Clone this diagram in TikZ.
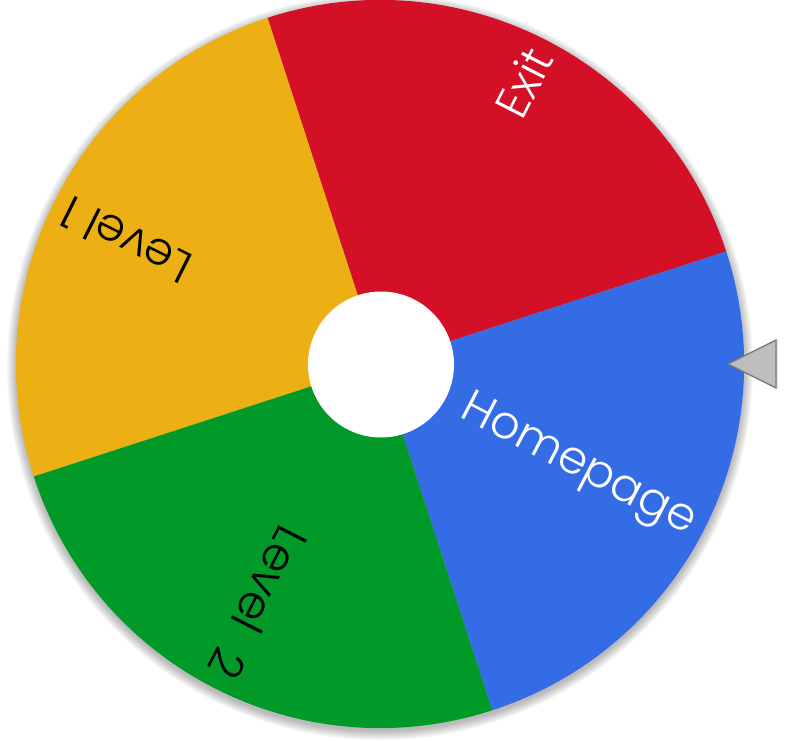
\documentclass[tikz,border=0pt]{standalone}
\usepackage{fontspec}
\setmainfont{Poppins Light}
\usetikzlibrary{calc}
\definecolor{wred}{RGB}{212,16,38}
\definecolor{wyellow}{RGB}{237,176,20}
\definecolor{wgreen}{RGB}{1,153,40}
\definecolor{wblue}{RGB}{52,108,230}
\definecolor{ptrfill}{RGB}{190,190,190}
\definecolor{ptrdraw}{RGB}{125,125,125}
\tikzset{
  lbl/.style={inner sep=0pt, font=\fontsize{34.5}{38}\selectfont},
}
\begin{document}
\begin{tikzpicture}[x=0.75pt,y=0.75pt]
\useasboundingbox (0,0) rectangle (791,740);
\coordinate (C) at (380,376);
% shadow
\foreach \k in {1,...,10}
  \fill[black,opacity=0.03] ($(C)+(0,-3)$) circle[radius=363+\k];
% segments
\fill[wred] (C) -- ($(C)+(18:364)$) arc[start angle=18, end angle=108, radius=364] -- cycle;
\fill[wyellow] (C) -- ($(C)+(108:364)$) arc[start angle=108, end angle=198, radius=364] -- cycle;
\fill[wgreen] (C) -- ($(C)+(198:364)$) arc[start angle=198, end angle=288, radius=364] -- cycle;
\fill[wblue] (C) -- ($(C)+(288:364)$) arc[start angle=288, end angle=378, radius=364] -- cycle;
% hole
\fill[white] (381,375.5) circle[radius=73];
% labels
\node[lbl,text=white,rotate=63,anchor=east] (exit) at ($(C)+(63:352)$) {Exit};
\node[lbl,text=white,rotate=-27.5,anchor=east] (home) at ($(C)+(-27.5:352)$) {Homepage};
\node[lbl,text=black,rotate=153.5,anchor=east] (lev1) at ($(C)+(154:352)$) {Level 1};
\node[lbl,text=black,rotate=243,anchor=east] (lev2) at ($(C)+(243:350)$) {Level~ 2};
% pointer
\coordinate (P1) at (728,376);
\coordinate (P2) at (776,400);
\coordinate (P3) at (776,352);
\foreach \k in {1,...,4}
  \fill[black,opacity=0.06,shift={(2,-2)}] ($(P1)+(-0.5*\k,0)$) -- ($(P2)+(0.5*\k,0.5*\k)$) -- ($(P3)+(0.5*\k,-0.5*\k)$) -- cycle;
\filldraw[fill=ptrfill,draw=ptrdraw,line width=1pt,line join=round] (P1) -- (P2) -- (P3) -- cycle;
\end{tikzpicture}
\end{document}
